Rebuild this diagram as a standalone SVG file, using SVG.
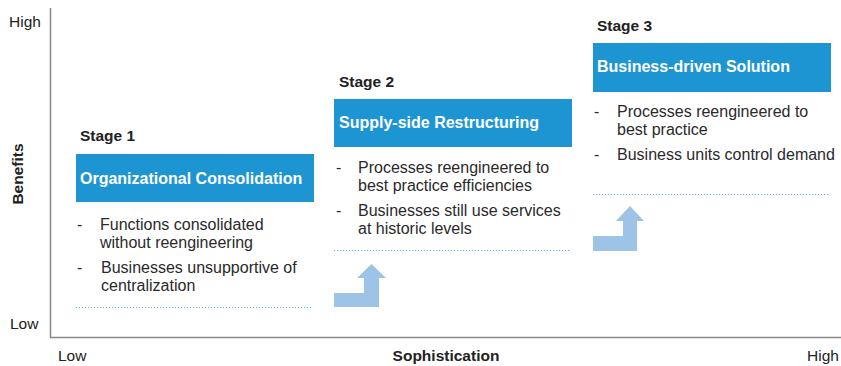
<svg xmlns="http://www.w3.org/2000/svg" width="841" height="366" viewBox="0 0 841 366">
<style>
text{font-family:"Liberation Sans",Arial,sans-serif;fill:#222}
.ax{font-size:15.5px}
.stage{font-size:15.5px;font-weight:bold}
.title{font-size:16px;font-weight:bold;fill:#fff}
.bl{font-size:16px;fill:#2a2a2a}
.box{fill:#1E95D3}
.dot{stroke:#5BB4E5;stroke-width:1.2;stroke-dasharray:1.2 1.8;fill:none}
.arr{fill:#9DC3E6}
</style>
<rect width="841" height="366" fill="#fff"/>
<g id="axes">
<line x1="50.5" y1="8" x2="50.5" y2="337.5" stroke="#888" stroke-width="1.5"/>
<line x1="50" y1="337.5" x2="841" y2="337.5" stroke="#888" stroke-width="1.5"/>
<text class="ax" x="9" y="27">High</text>
<text class="ax" x="10" y="329">Low</text>
<text class="ax" x="58" y="361">Low</text>
<text class="ax" x="807" y="361">High</text>
<text class="ax" x="446" y="361" text-anchor="middle" font-weight="bold">Sophistication</text>
<text class="ax" x="0" y="0" text-anchor="middle" font-weight="bold" transform="translate(23,174) rotate(-90)">Benefits</text>
</g>
<g id="stage1">
<text class="stage" x="80" y="141">Stage 1</text>
<rect class="box" x="76" y="154" width="238" height="48"/>
<text class="title" x="80" y="184">Organizational Consolidation</text>
<text class="bl" x="77" y="230">-</text>
<text class="bl" x="100" y="230">Functions consolidated</text>
<text class="bl" x="100" y="248">without reengineering</text>
<text class="bl" x="77" y="273">-</text>
<text class="bl" x="101" y="273">Businesses unsupportive of</text>
<text class="bl" x="101" y="291">centralization</text>
<line class="dot" x1="76" y1="307.5" x2="312" y2="307.5"/>
</g>
<g id="stage2">
<text class="stage" x="339" y="87">Stage 2</text>
<rect class="box" x="334" y="99" width="238" height="48"/>
<text class="title" x="339" y="128">Supply-side Restructuring</text>
<text class="bl" x="336" y="173">-</text>
<text class="bl" x="358" y="173">Processes reengineered to</text>
<text class="bl" x="358" y="191">best practice efficiencies</text>
<text class="bl" x="336" y="216">-</text>
<text class="bl" x="358" y="216">Businesses still use services</text>
<text class="bl" x="358" y="234">at historic levels</text>
<line class="dot" x1="334" y1="250.5" x2="570" y2="250.5"/>
</g>
<g id="stage3">
<text class="stage" x="597" y="31">Stage 3</text>
<rect class="box" x="593" y="43" width="238" height="49"/>
<text class="title" x="597" y="72">Business-driven Solution</text>
<text class="bl" x="594" y="117">-</text>
<text class="bl" x="617" y="117">Processes reengineered to</text>
<text class="bl" x="617" y="135">best practice</text>
<text class="bl" x="594" y="160">-</text>
<text class="bl" x="617" y="160">Business units control demand</text>
<line class="dot" x1="593" y1="194.5" x2="829" y2="194.5"/>
</g>
<g id="connectors">
<polygon class="arr" points="334,293 364,293 364,278 357,278 371.5,264 386,278 379,278 379,307 334,307"/>
<polygon class="arr" points="593,236 623,236 623,221 616,221 630,206 644,221 637,221 637,251 593,251"/>
</g>
</svg>
